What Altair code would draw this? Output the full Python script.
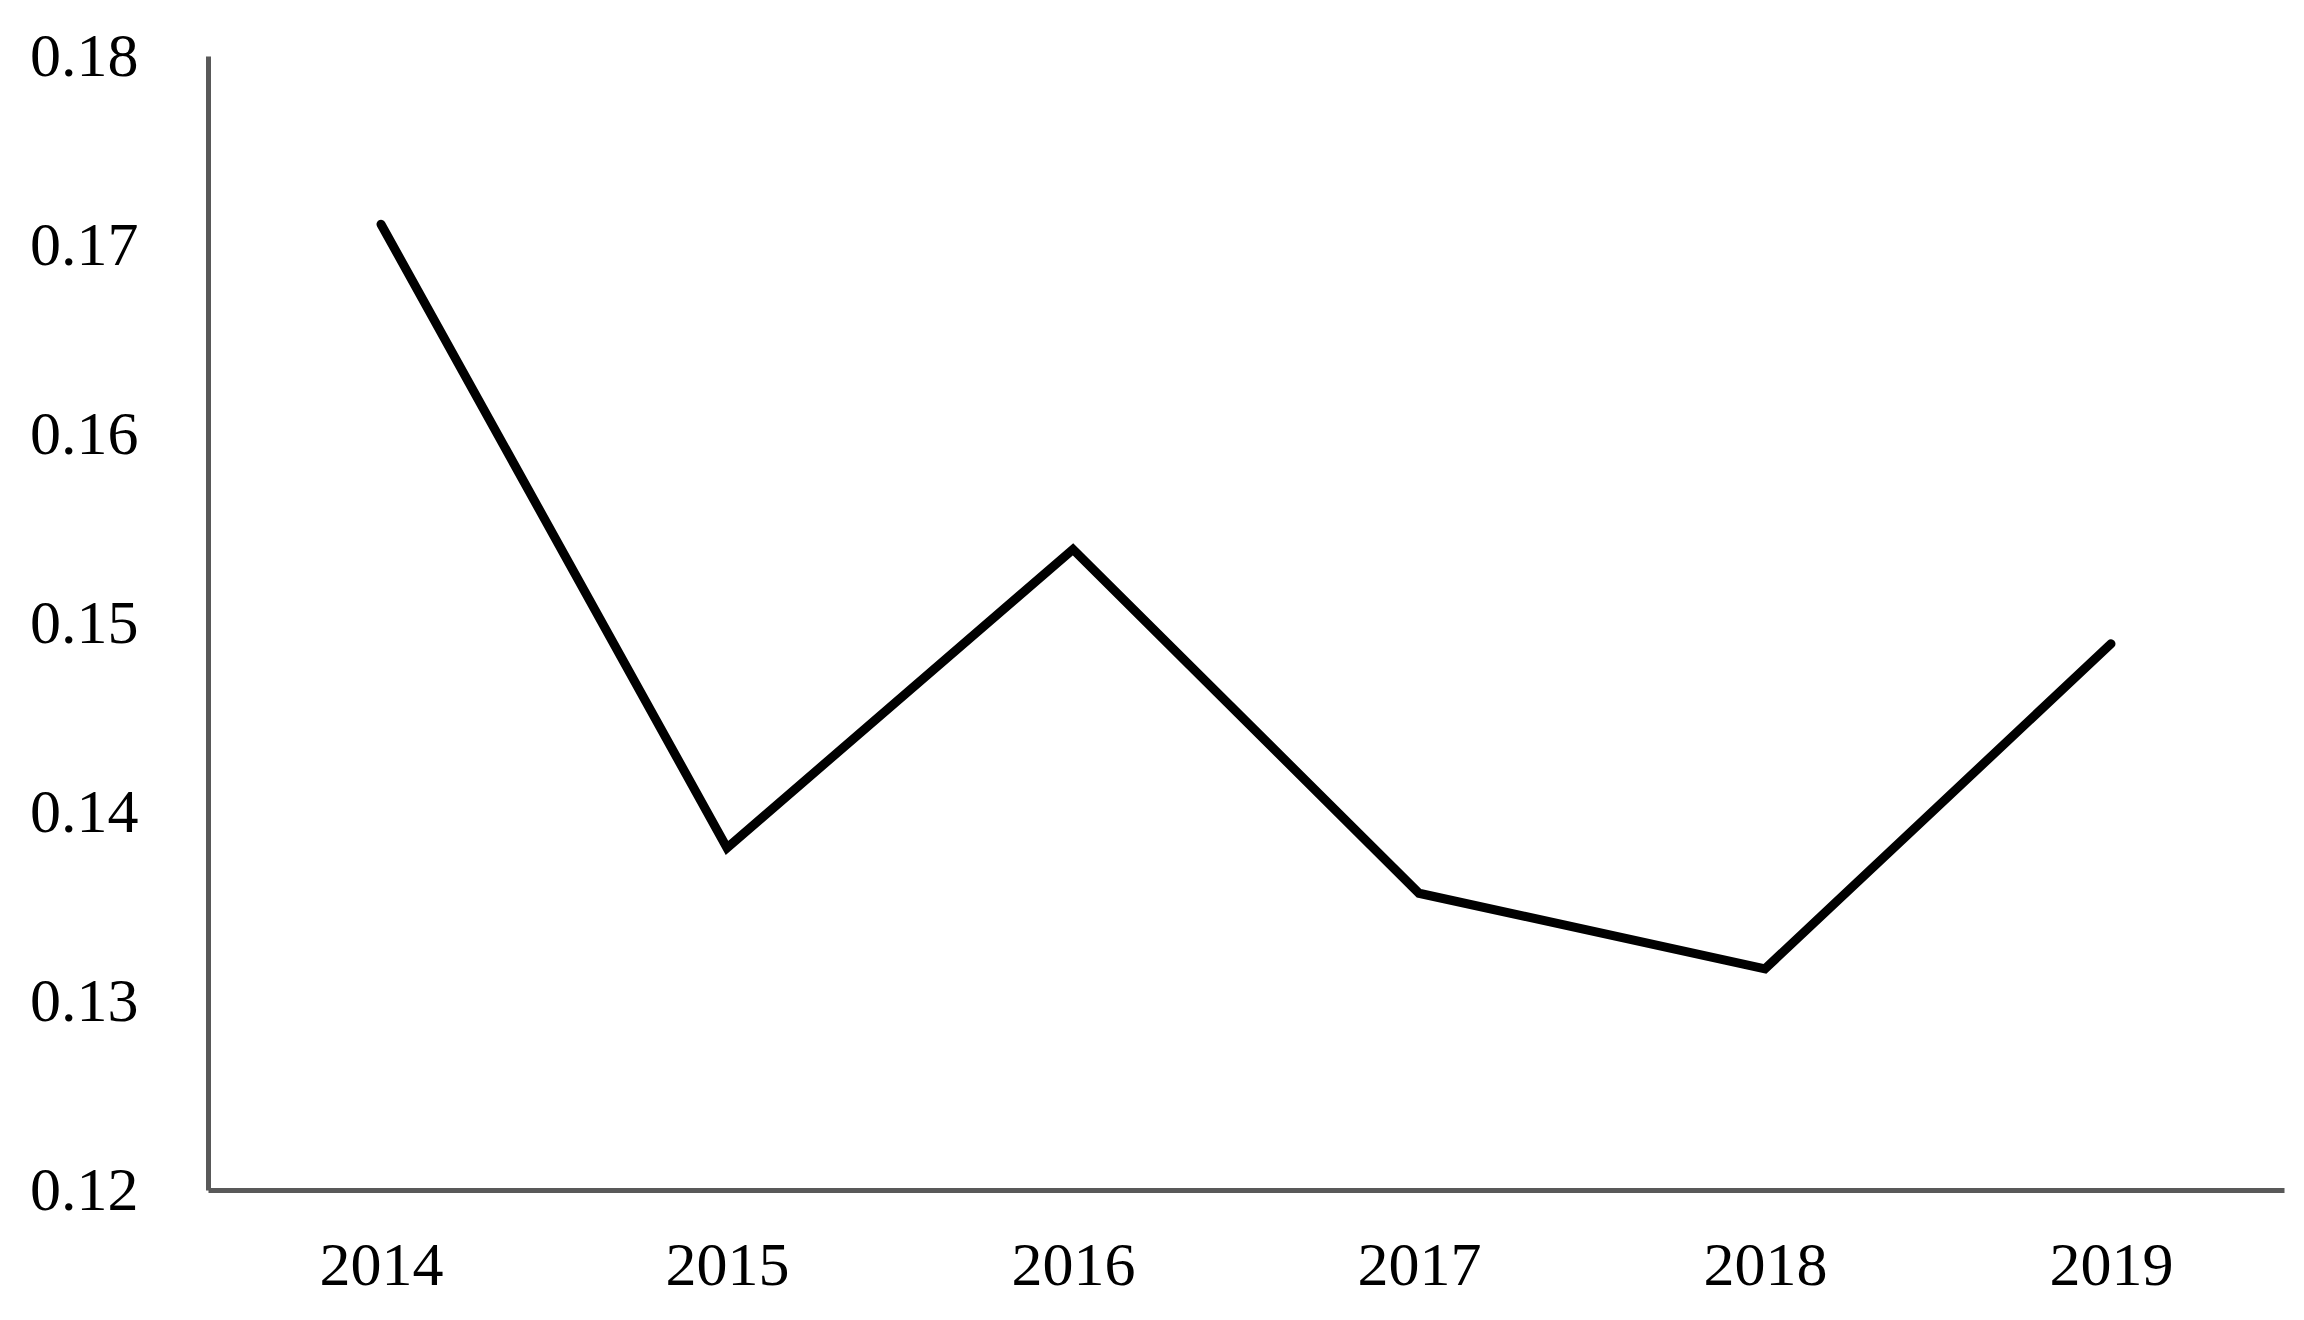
import altair as alt
import pandas as pd

years = ["2014", "2015", "2016", "2017", "2018", "2019"]
values = [0.1711, 0.1381, 0.1539, 0.1357, 0.1317, 0.1489]
y_ticks = [0.12, 0.13, 0.14, 0.15, 0.16, 0.17, 0.18]

df = pd.DataFrame({"year": years, "value": values})

chart = alt.Chart(df).mark_line(
    color="black", strokeWidth=9, strokeCap="round", strokeJoin="miter"
).encode(
    x=alt.X("year:N", sort=years,
            scale=alt.Scale(type="point", padding=0.5),
            axis=alt.Axis(title=None, labelAngle=0, ticks=False, grid=False,
                          domainColor="#595959", domainWidth=5,
                          labelFont="Liberation Serif", labelFontSize=62,
                          labelColor="black", labelPadding=45)),
    y=alt.Y("value:Q",
            scale=alt.Scale(domain=[0.12, 0.18], zero=False, nice=False),
            axis=alt.Axis(title=None, values=y_ticks, format=".2f", ticks=False, grid=False,
                          domainColor="#595959", domainWidth=5,
                          labelFont="Liberation Serif", labelFontSize=62,
                          labelColor="black", labelPadding=70)),
).properties(
    width=2076, height=1134,
    autosize=alt.AutoSizeParams(type="none"),
    padding={"left": 200, "top": 48, "right": 10, "bottom": 120},
).configure_view(stroke=None)

chart.save("out.html", embed_options={"renderer": "svg", "actions": False})
